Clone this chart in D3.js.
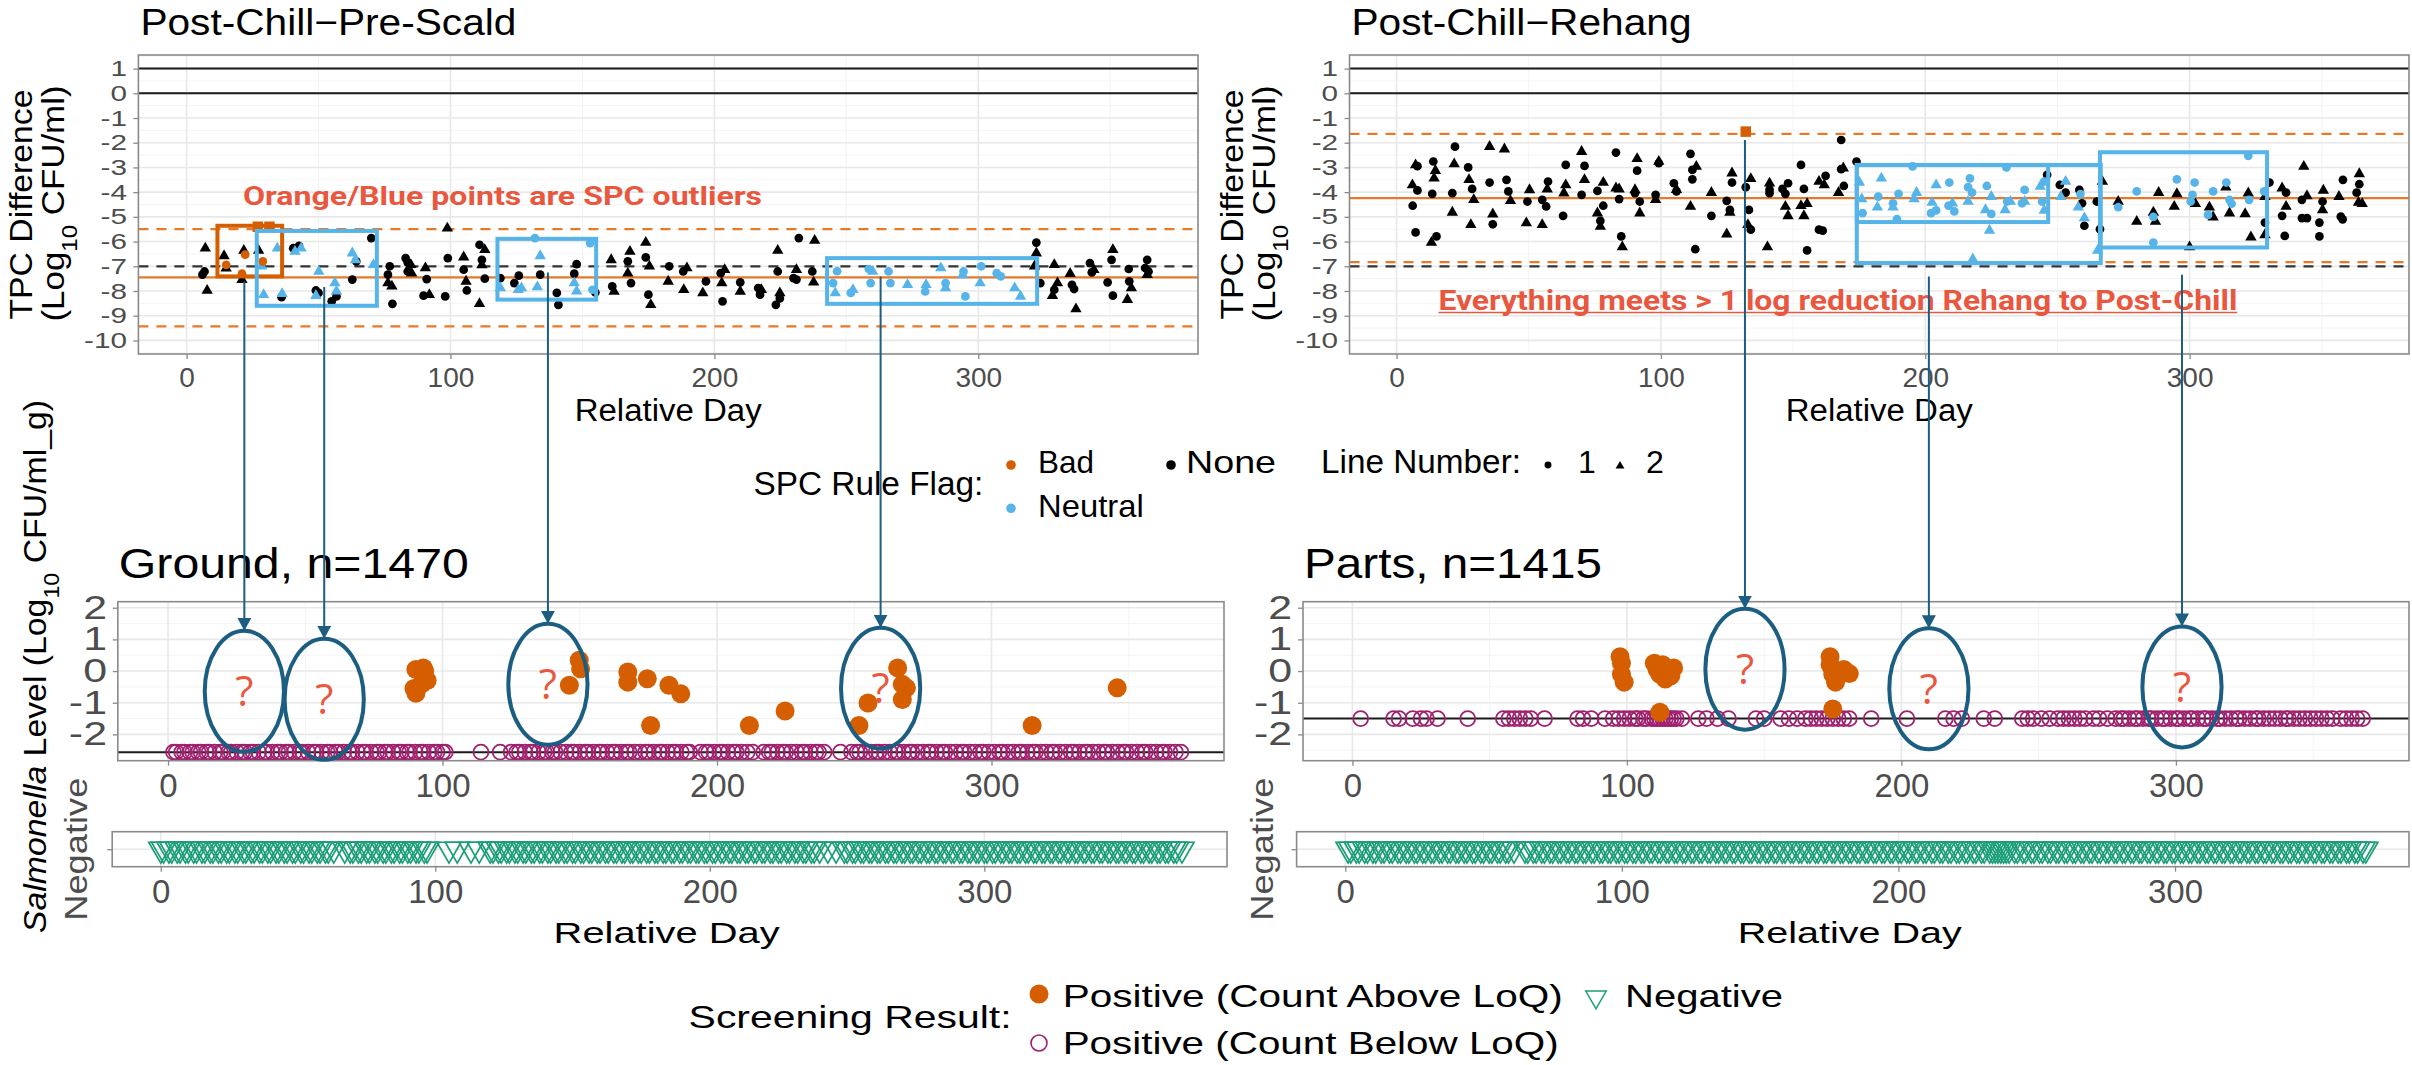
<!DOCTYPE html>
<html>
<head>
<meta charset="utf-8">
<script src="https://cdn.jsdelivr.net/npm/d3@7"></script>
<style>
  body { margin: 0; background: #fff; }
  svg { display: block; }
</style>
</head>
<body>
<svg id="chart" width="2412" height="1065"></svg>
<script>
// ---- data: SPC TPC differences (day, log10 difference, line number; line 0 = square marker)
const preScaldNone = [
  [7.1,-6.27,2],[6.8,-7.21,1],[6,-7.34,1],[7.8,-7.98,2],[14.2,-6.58,2],[15,-7.08,2],[21.7,-6.36,2],[21,-7.54,2],
  [27.3,-6.36,2],[36,-8.25,1],[40.4,-6.27,1],[42.6,-6.17,1],[49,-7.98,1],[50,-8.08,1],[55,-8.42,1],[56.8,-8.22,1],
  [62.8,-7.54,1],[64.3,-6.8,1],[70,-5.86,1],[77,-7.0,1],[76.3,-7.34,1],[76.3,-7.68,2],[77.8,-7.81,2],[78,-8.52,1],
  [83,-6.67,1],[83.8,-6.85,1],[85,-6.94,2],[83.8,-7.21,1],[85.3,-7.28,2],[90.5,-7.07,2],[91,-7.52,1],[89.8,-8.19,1],
  [92,-8.15,2],[98.8,-5.46,2],[99,-6.67,1],[98,-8.22,1],[105,-6.63,2],[105,-7.14,1],[105.9,-7.61,2],[106.2,-7.98,1],
  [111,-6.13,1],[113,-6.33,2],[111.9,-6.74,1],[111.9,-6.95,2],[113,-7.5,1],[111,-8.52,2],[118.9,-7.48,1],[125.9,-7.38,1],
  [124.2,-7.68,1],[134,-7.34,1],[140.3,-8.08,1],[140.9,-8.56,1],[147.8,-6.91,1],[146.9,-7.3,1],[154.9,-8.06,1],
  [160.9,-6.74,2],[161.3,-7.81,1],[162,-8.02,2],[168,-6.4,2],[167.2,-6.8,1],[167.2,-7.28,2],[168.4,-7.68,1],
  [174,-6.04,2],[174,-6.64,1],[175.4,-7.0,2],[175,-8.15,1],[175.9,-8.56,2],[182.9,-7.0,1],[182.5,-7.61,2],
  [188.2,-7.21,1],[189.6,-7.07,2],[188.4,-7.95,2],[195.6,-8.08,2],[196.8,-7.61,1],[202.4,-7.28,1],[203.9,-7.14,2],
  [202.8,-7.68,2],[203.1,-8.42,1],[209.8,-7.65,1],[209.8,-8.02,2],[216.6,-7.88,1],[217.3,-8.15,1],[217.8,-7.95,2],
  [224,-6.36,2],[224,-7.21,1],[224.8,-8.08,2],[223.3,-8.56,1],[224.8,-8.3,1],[232,-5.86,1],[231.1,-7.14,2],
  [231.1,-7.54,1],[230,-7.48,1],[238,-5.96,2],[237.1,-7.21,1],[237.6,-7.65,2],[322,-6.04,1],[322,-6.47,2],
  [321.3,-7.0,2],[323.5,-7.68,1],[328.8,-6.94,2],[330,-7.68,2],[328.1,-8.19,2],[328.8,-7.95,1],[334.8,-7.3,2],
  [335.5,-7.75,1],[336.3,-7.92,1],[337,-8.73,2],[342.3,-6.87,1],[343.8,-7.14,2],[343,-7.25,1],[351,-6.33,2],
  [350.5,-6.74,1],[349,-7.65,1],[351,-8.19,1],[357,-7.11,1],[357.2,-7.61,1],[358,-7.88,2],[356.5,-8.35,2],
  [364,-6.74,1],[363.2,-7.07,1],[364,-7.34,2],[364.5,-7.21,1]
];
const preScaldNeutral = [
  [34.4,-6.27,2],[28.4,-7.0,2],[29.2,-8.15,2],[36.2,-8.11,2],[41.1,-6.4,2],[43.4,-6.27,2],[50.1,-7.21,2],[49,-8.19,2],
  [56.2,-7.68,2],[56.8,-8.01,2],[62.8,-6.47,2],[64,-6.74,2],[70.8,-6.94,2],[118.9,-7.88,2],[125.7,-7.95,2],
  [126.9,-7.88,2],[132,-5.86,1],[134,-6.58,2],[132.9,-7.84,2],[146.9,-7.68,2],[147.8,-8.01,2],[152.9,-6.06,1],
  [153.8,-7.95,1],[245,-7.68,1],[245.8,-8.08,2],[251.7,-8.08,1],[258.5,-7.11,1],[260,-7.21,2],[259.2,-7.68,1],
  [266,-7.21,1],[266.7,-7.68,1],[273.2,-7.75,2],[280.2,-7.75,2],[279.9,-8.02,1],[285.8,-7.07,2],[287.6,-7.68,1],
  [287.6,-7.88,2],[294.4,-7.21,1],[294.1,-7.35,2],[295.1,-8.22,1],[301.1,-7.0,1],[300.7,-7.68,2],[307,-7.28,1],
  [308.5,-7.41,1],[313.8,-7.88,2],[316,-8.22,2],[246.5,-7.2,1],[252.5,-7.95,2]
];
const preScaldBad = [[15,-6.94,1],[22.2,-6.53,1],[21,-7.3,1],[28.9,-6.8,1],[27,-5.4,0],[31.4,-5.4,0]];

const rehangNone = [
  [6,-3.71,2],[6.1,-4.55,1],[7.2,-5.63,1],[7.2,-2.9,2],[7.9,-2.95,1],[7.9,-3.93,1],[13.9,-2.76,1],[14.7,-3.13,2],
  [14.2,-3.44,2],[13.5,-4.07,1],[13.2,-6.04,2],[15.1,-5.79,1],[22.1,-2.16,1],[21.8,-2.86,2],[21.1,-4.04,1],
  [21.1,-4.82,2],[27.1,-3.0,1],[27.4,-3.5,2],[28.6,-3.87,1],[29.2,-4.31,2],[28.1,-5.32,2],[35.2,-2.16,2],
  [35.2,-3.61,1],[36.4,-4.89,2],[36.4,-5.3,1],[40.8,-2.26,2],[41.6,-3.5,1],[42.3,-3.97,1],[43.1,-4.35,2],
  [49.1,-5.25,2],[49.5,-4.38,1],[50.3,-3.91,2],[55.1,-4.31,1],[56.6,-4.58,1],[55.1,-5.32,2],[57,-3.88,2],
  [57.3,-3.57,1],[63,-4.96,1],[63.3,-4.04,2],[64,-3.71,2],[64,-2.9,1],[70,-2.36,2],[71.1,-2.94,1],[71.1,-3.5,2],
  [70,-4.11,1],[76,-3.95,1],[76,-4.85,2],[77.1,-5.16,1],[77.1,-5.39,2],[78.2,-4.55,1],[78.2,-3.61,2],[83,-2.4,1],
  [83,-3.84,2],[84.2,-3.88,2],[84.2,-4.28,1],[85,-5.79,1],[85.4,-6.22,2],[91,-2.65,2],[91,-3.13,1],[90.2,-3.91,2],
  [90.2,-4.04,1],[92,-4.38,1],[92,-4.85,2],[99.2,-2.83,1],[99.2,-2.76,2],[98,-4.11,1],[98,-4.31,2],[104.9,-3.64,1],
  [105.9,-3.97,1],[105.9,-3.9,2],[111.2,-2.45,1],[111.9,-3.1,1],[111.9,-3.48,1],[113.4,-2.96,2],[111.2,-4.58,2],
  [113,-6.31,1],[119.1,-4.02,2],[119.1,-4.96,1],[126.9,-3.23,2],[126.9,-3.61,1],[124.9,-4.35,1],[126.1,-4.82,2],
  [126.1,-4.72,1],[124.9,-5.7,2],[132.1,-3.8,1],[134,-3.46,2],[133.3,-4.72,1],[132.9,-5.32,2],[134,-5.52,1],
  [141.1,-3.64,2],[141.1,-4.04,1],[140.3,-6.22,2],[141.1,-3.9,1],[146,-3.87,1],[148.1,-3.64,1],[147.1,-4.58,2],
  [148.1,-4.96,2],[147.1,-4.07,1],[153,-2.9,1],[154.1,-3.87,1],[153,-4.55,2],[155.3,-4.47,2],[154.1,-4.96,2],
  [155.3,-6.36,1],[159.8,-3.57,2],[159.8,-5.52,1],[161.2,-5.56,1],[161.8,-3.71,2],[162.3,-3.34,1],[167.2,-4.02,2],
  [168.2,-3.07,1],[169,-3.03,2],[168.2,-1.89,1],[169.2,-3.75,1],[174,-2.76,1],[246.1,-3.3,1],[250.9,-3.71,1],
  [253.1,-4.02,1],[258.3,-3.91,1],[259.3,-4.45,1],[260.2,-5.36,1],[264.9,-4.38,1],[266.1,-5.5,1],[267,-3.57,2],
  [273,-4.38,2],[280,-5.19,2],[286.3,-4.82,2],[287.1,-5.19,2],[288.3,-4.02,2],[295.2,-4.07,2],[294.2,-4.58,2],
  [302.2,-4.47,2],[300,-6.22,2],[307.5,-4.61,2],[308.9,-5.01,2],[313.7,-3.8,2],[315.1,-4.85,2],[322.2,-4.04,2],
  [321,-4.88,2],[323.2,-5.82,2],[328.5,-5.23,1],[328.5,-5.73,2],[328.5,-4.18,2],[330.2,-3.61,1],[335,-3.84,2],
  [336.5,-4.02,1],[335,-4.96,1],[336,-5.77,1],[336.5,-4.58,2],[343.2,-2.96,2],[342.5,-4.31,1],[344.4,-4.15,2],
  [342.5,-5.05,1],[344.4,-5.05,1],[349.1,-5.79,1],[350.3,-4.38,1],[350.6,-3.93,2],[350.3,-4.72,2],[349.1,-5.23,1],
  [357.2,-4.99,1],[358,-3.5,1],[356.5,-4.18,2],[357.9,-5.1,1],[364.2,-3.26,2],[364.2,-3.68,1],[363.2,-4.02,1],
  [363.9,-4.42,2],[365.3,-4.47,2]
];
const rehangNeutral = [
  [175.1,-3.61,2],[176,-4.28,2],[176.3,-4.85,1],[181.9,-4.61,2],[182.2,-4.18,1],[183.4,-3.44,2],[187.8,-4.45,1],
  [187.8,-4.61,2],[189.3,-5.09,1],[189.9,-4.07,1],[195.2,-2.96,1],[196.7,-4.02,2],[195.8,-4.28,2],[202.6,-4.42,2],
  [202.2,-4.85,1],[204.1,-3.71,2],[204.1,-4.74,1],[209.1,-3.61,1],[208.8,-4.55,1],[210.3,-4.45,2],[211,-4.78,1],
  [216.2,-4.38,2],[216.9,-3.44,1],[217.7,-4.02,1],[216.2,-3.8,1],[222.8,-4.72,2],[223.3,-3.75,1],[225,-4.88,1],
  [225,-4.18,2],[224.3,-5.55,2],[230.7,-3.0,1],[231,-4.38,1],[230.2,-4.72,2],[232.2,-4.38,2],[237.6,-3.91,1],
  [237.6,-4.38,2],[236.6,-4.45,1],[243.5,-3.77,2],[244.2,-4.38,1],[245,-4.74,2],[245,-3.57,1],[218,-6.71,2],
  [265.2,-6.36,2],[253.1,-3.57,2],[251.3,-4.18,2],[257.9,-4.61,2],[258.7,-4.08,1],[260.2,-5.05,2],[273,-4.61,1],
  [280,-3.97,1],[286.3,-5.0,1],[286.3,-6.04,1],[295.2,-3.48,1],[301.9,-3.61,1],[301.1,-4.11,1],[300.4,-4.38,1],
  [307,-4.92,1],[308.9,-3.97,1],[313.9,-3.61,1],[315.9,-4.47,1],[315.1,-4.31,1],[322.2,-2.53,1],[322.5,-4.31,1],
  [328.2,-3.97,1]
];
const rehangBad = [[132.1,-1.55,0]];

// control limits [upper, centre, lower] and the -7 log target
const preScaldLimits = [-5.5, -7.45, -9.43];
const rehangLimits = [-1.645, -4.245, -6.83];
const referenceLines = [1, 0];
const targetLine = -7;

// highlighted SPC runs: [day from, day to, value low, value high, flag]
const preScaldBoxes = [[11.7,36.2,-7.41,-5.36,'Bad'],[26.6,72.1,-8.6,-5.57,'Neutral'],[117.8,155.2,-8.35,-5.89,'Neutral'],[242.7,322.3,-8.52,-6.67,'Neutral']];
const rehangBoxes = [[174.1,246.5,-5.21,-2.9,'Neutral'],[174.1,266.4,-6.87,-2.9,'Neutral'],[266.1,329.3,-6.24,-2.385,'Neutral']];

// ---- data: Salmonella screening
const groundLoq = -2.56;
const partsLoq = -1.5;
const groundAbove = [[89.6,-0.55],[90.3,0.05],[90.3,-0.7],[92.5,-0.4],[93,0.1],[94.4,-0.3],[93.5,0.0],[146.2,-0.45],
  [149.8,0.34],[150.3,0.07],[167.5,-0.03],[167.5,-0.35],[174.6,-0.24],[182.5,-0.45],[186.8,-0.72],[175.8,-1.72],
  [211.8,-1.72],[224.8,-1.26],[251.7,-1.72],[255,-1.01],[265.8,0.1],[267.5,-0.42],[269,-0.53],[267.5,-0.9],
  [314.8,-1.72],[345.8,-0.53]];
const groundBelowDays = [2,3,5,6,8,9,11,12,14,15,17,19,20,22,23,25,27,28,30,31,33,35,36,38,40,41,43,44,46,48,49,51,53,54,
  56,58,59,61,62,64,66,67,69,71,72,74,76,77,79,80,82,84,85,87,88,90,92,93,95,97,98,100,101,114,121,125,127,128,130,132,
  133,135,137,138,140,141,143,145,147,148,150,152,153,155,157,158,160,162,163,165,167,168,170,172,174,175,177,179,180,
  182,184,185,187,189,190,194,196,197,199,201,202,204,206,207,209,211,213,217,219,220,222,224,225,227,229,231,232,234,
  236,237,239,245,249,251,252,254,256,258,259,261,263,265,266,268,270,271,273,275,277,278,280,282,283,285,287,289,290,
  292,294,296,297,299,301,303,304,306,308,310,311,313,315,316,318,320,322,323,325,327,329,330,332,334,335,337,339,341,
  342,344,346,348,349,351,353,355,356,358,360,362,363,365,367,369];
const groundNegDays = [0,1,3,4,6,7,9,10,12,13,15,16,18,19,21,22,24,25,27,28,30,31,33,34,36,37,39,40,42,43,45,46,48,49,51,
  52,54,55,57,58,60,61,63,67,69,70,72,73,75,76,78,79,81,82,84,85,87,88,90,91,93,94,96,97,105,108,113,116,120,121,123,124,
  126,127,129,130,132,133,135,136,138,139,141,142,144,145,147,148,150,151,153,154,156,157,159,160,162,163,165,166,168,
  169,171,172,174,175,177,178,180,181,183,184,186,187,189,190,192,193,195,196,198,199,201,202,204,205,207,208,210,211,
  213,214,216,217,219,220,222,223,225,226,228,229,231,232,234,235,237,238,240,243,246,249,250,252,253,255,256,258,259,
  261,262,264,265,267,268,270,271,273,274,276,277,279,280,282,283,285,286,288,289,291,292,294,295,297,298,300,301,303,
  304,306,307,309,310,312,313,315,316,318,319,321,322,324,325,327,328,330,331,333,334,336,337,339,340,342,343,345,346,
  348,349,351,352,354,355,357,358,360,361,363,364,366,367,369,370,372];
const partsAbove = [[97.5,0.45],[98,0.25],[98,-0.1],[99,-0.35],[110,0.25],[111,0.05],[112,-0.1],[113,0.2],[114,-0.25],
  [115,0.05],[116,-0.15],[117,0.1],[112,-1.3],[174,0.45],[174,0.2],[175,-0.1],[176,-0.35],[179,0.05],[181,-0.08],[175,-1.2]];
const partsBelowDays = [3,15,17,22,25,27,31,42,55,57,59,61,63,65,70,82,84,87,92,95,97,99,101,103,104,106,107,109,110,111,
  112,113,114,115,116,117,118,120,126,129,133,137,147,150,156,159,162,165,167,169,171,173,175,177,179,181,189,202,216,
  219,222,230,234,244,246,248,251,254,257,259,261,263,265,267,270,272,275,278,280,281,283,285,286,288,290,291,293,295,
  296,298,300,301,303,305,306,308,310,311,313,315,316,318,320,322,323,325,327,329,330,332,334,336,338,340,341,343,345,
  347,349,351,353,355,357,360,362,364,366,368];
const partsNegDays = [1,2,4,5,7,8,10,11,13,14,16,17,19,20,22,23,25,26,28,29,31,32,34,35,37,38,40,41,43,44,46,47,49,50,52,
  53,55,56,58,59,61,65,66,68,69,71,72,74,75,77,78,80,81,83,84,86,87,89,90,92,93,95,96,98,99,101,102,104,105,107,108,110,
  111,113,114,116,117,119,120,122,123,125,126,128,129,131,132,134,135,137,138,140,141,143,144,146,147,149,150,152,153,
  155,156,158,159,161,162,164,165,167,168,170,171,173,174,176,177,179,180,182,183,185,186,188,189,191,192,194,195,197,
  198,200,201,203,204,206,207,209,210,212,213,215,216,218,219,221,222,224,225,227,228,230,231,233,234,235,236,237,238,
  239,240,242,243,245,246,248,249,251,252,254,255,257,258,260,261,263,264,266,267,269,270,272,273,275,276,278,279,281,
  282,284,285,287,288,290,291,293,294,296,297,299,300,302,303,305,306,308,309,311,312,314,315,317,318,320,321,323,324,
  326,327,329,330,332,333,335,336,338,339,341,342,344,345,347,348,350,351,353,354,356,357,359,360,362,363,365,366,368,369];

// callouts: ellipse centre (day, level) in the screening panel, arrow start level in the SPC panel
const groundCallouts = [[27.8,-0.64,-7.62],[56.9,-0.89,-7.84],[138.4,-0.42,-7.25],[259.6,-0.54,-7.41]];
const partsCallouts = [[143,0.06,-1.89],[210,-0.56,-7.41],[302.2,-0.5,-7.34]];

// ticks
const dayTicks = [0, 100, 200, 300];
const dayMinor = [50, 150, 250, 350];
const tpcTicks = [1, 0, -1, -2, -3, -4, -5, -6, -7, -8, -9, -10];
const tpcMinor = [1.5, 0.5, -0.5, -1.5, -2.5, -3.5, -4.5, -5.5, -6.5, -7.5, -8.5, -9.5, -10.5];
const levelTicks = [2, 1, 0, -1, -2];
const levelMinor = [1.5, 0.5, -0.5, -1.5, -2.5];

// ---- styles
const FONT = '"Liberation Sans", Arial, Helvetica, sans-serif';
const NOTE_FONT = 'Roboto, "Liberation Sans", sans-serif';
const flagColor = { Bad: '#d55e00', Neutral: '#56b4e9', None: '#000' };
const ORANGE_LINE = '#e57a2a';
const NOTE = '#e9573f';
const CALLOUT = '#1c5e82';
const POS = '#d55e00', BELOW = '#a01f6e', NEG = '#1b9e77';

const svg = d3.select('#chart');
svg.append('rect').attr('width', 2412).attr('height', 1065).attr('fill', '#fff');
const defs = svg.append('defs');
defs.append('marker').attr('id', 'head').attr('markerUnits', 'userSpaceOnUse')
  .attr('viewBox', '0 0 13 14').attr('refX', 13).attr('refY', 7)
  .attr('markerWidth', 13).attr('markerHeight', 14).attr('orient', 'auto')
  .append('path').attr('d', 'M0,0L13,7L0,14Z').attr('fill', CALLOUT);

// ---- scales
const yTop = d3.scaleLinear().domain([-10.55, 1.55]).range([354, 55]);
const xPre = d3.scaleLinear().domain([-18.25, 383.25]).range([138.4, 1198]);
const xReh = d3.scaleLinear().domain([-17.8, 383]).range([1349.5, 2409]);
const yBot = d3.scaleLinear().domain([-2.83, 2.19]).range([760.7, 601.7]);
const xGround = d3.scaleLinear().domain([-18.3, 384.7]).range([117.8, 1224]);
const xParts = d3.scaleLinear().domain([-18, 384.9]).range([1303, 2409]);
const xGroundNeg = d3.scaleLinear().domain([-17.7, 388.4]).range([112.2, 1227]);
const xPartsNeg = d3.scaleLinear().domain([-17.6, 384.6]).range([1296.6, 2409]);
const yNeg = d3.scalePoint().domain(['Negative']).range([866.7, 831.7]).padding(0.5);

// ---- helpers
function txt(x, y, s, size, opts = {}) {
  const t = svg.append('text').attr('x', x).attr('y', y)
    .attr('font-family', opts.family || FONT).attr('font-size', size)
    .attr('fill', opts.fill || '#000').attr('text-anchor', opts.anchor || 'start')
    .attr('font-weight', opts.weight || 'normal').text(s);
  if (opts.len) t.attr('textLength', opts.len).attr('lengthAdjust', 'spacingAndGlyphs');
  if (opts.rotate) t.attr('transform', `rotate(-90,${x},${y})`);
  return t;
}

function drawGrid(x, y, xMajor, xMinor, yMajor, yMinor) {
  const [xl, xr] = x.range();
  const [yb, yt] = y.range();
  const g = svg.append('g');
  const v = (vals, c, w) => g.append('g').selectAll('line').data(vals).join('line')
    .attr('x1', d => x(d)).attr('x2', d => x(d)).attr('y1', yt).attr('y2', yb).attr('stroke', c).attr('stroke-width', w);
  const h = (vals, c, w) => g.append('g').selectAll('line').data(vals).join('line')
    .attr('y1', d => y(d)).attr('y2', d => y(d)).attr('x1', xl).attr('x2', xr).attr('stroke', c).attr('stroke-width', w);
  v(xMinor, '#f4f4f4', 1); h(yMinor, '#f4f4f4', 1);
  v(xMajor, '#e8e8e8', 1.6); h(yMajor, '#e8e8e8', 1.6);
}

function drawBorder(x, y) {
  const [xl, xr] = x.range();
  const [yb, yt] = y.range();
  svg.append('rect').attr('x', xl).attr('y', yt).attr('width', xr - xl).attr('height', yb - yt)
    .attr('fill', 'none').attr('stroke', '#8a8a8a').attr('stroke-width', 1.6);
}

// stretch widens tick labels the way the reference renders them
function styleAxis(g, size, stretch) {
  g.select('.domain').remove();
  g.selectAll('.tick line').attr('stroke', '#8a8a8a').attr('stroke-width', 1.3);
  g.selectAll('.tick text').attr('fill', '#4d4d4d').attr('font-size', size).attr('font-family', FONT);
  if (stretch) {
    g.selectAll('.tick text').each(function () {
      const w = this.getComputedTextLength();
      if (w > 0) d3.select(this).attr('textLength', w * stretch).attr('lengthAdjust', 'spacingAndGlyphs');
    });
  }
}

function bottomAxis(x, yPos, size, pad) {
  const g = svg.append('g').attr('transform', `translate(0,${yPos})`)
    .call(d3.axisBottom(x).tickValues(dayTicks).tickSize(5).tickPadding(pad).tickFormat(d => String(d)));
  styleAxis(g, size);
}

function leftAxis(y, xPos, ticks, size, pad, stretch) {
  const g = svg.append('g').attr('transform', `translate(${xPos},0)`)
    .call(d3.axisLeft(y).tickValues(ticks).tickSize(5).tickPadding(pad).tickFormat(d => String(d)));
  styleAxis(g, size, stretch);
}

function hRule(x, y, v, color, width, dash) {
  const [xl, xr] = x.range();
  svg.append('line').attr('x1', xl).attr('x2', xr).attr('y1', y(v)).attr('y2', y(v))
    .attr('stroke', color).attr('stroke-width', width).attr('stroke-dasharray', dash || null);
}

const shapeOf = line => line === 2 ? d3.symbolTriangle : line === 0 ? d3.symbolSquare : d3.symbolCircle;
const areaOf = line => line === 2 ? 56 : line === 0 ? 110 : 60;

function spcPoints(x, rows, color) {
  svg.append('g').selectAll('path').data(rows).join('path')
    .attr('transform', d => `translate(${x(d[0])},${yTop(d[1])})`)
    .attr('d', d => d3.symbol(shapeOf(d[2]), areaOf(d[2]))())
    .attr('fill', color);
}

function spcBoxes(x, rows) {
  svg.append('g').selectAll('rect').data(rows).join('rect')
    .attr('x', d => x(d[0])).attr('width', d => x(d[1]) - x(d[0]))
    .attr('y', d => yTop(d[3])).attr('height', d => yTop(d[2]) - yTop(d[3]))
    .attr('fill', 'none').attr('stroke', d => flagColor[d[4]]).attr('stroke-width', 4);
}

function spcPanel(x, title, titleLen, limits, boxes, none, neutral, bad, yTitleX) {
  drawGrid(x, yTop, dayTicks, dayMinor, tpcTicks, tpcMinor);
  referenceLines.forEach(v => hRule(x, yTop, v, '#1a1a1a', 2));
  hRule(x, yTop, limits[0], ORANGE_LINE, 2.2, '10,8');
  hRule(x, yTop, limits[2], ORANGE_LINE, 2.2, '10,8');
  hRule(x, yTop, targetLine, '#333', 2.2, '10,8');
  hRule(x, yTop, limits[1], ORANGE_LINE, 2.2);
  spcPoints(x, none, flagColor.None);
  spcPoints(x, neutral, flagColor.Neutral);
  spcPoints(x, bad, flagColor.Bad);
  spcBoxes(x, boxes);
  drawBorder(x, yTop);
  leftAxis(yTop, x.range()[0], tpcTicks, 22, 6.4, 1.35);
  bottomAxis(x, 354, 28, 8);
  const [xl, xr] = x.range();
  txt(xl + 2, 35, title, 37, { len: titleLen });
  txt((xl + xr) / 2, 421, 'Relative Day', 31, { anchor: 'middle', len: 187 });
  txt(yTitleX, 204.5, 'TPC Difference', 32, { anchor: 'middle', rotate: true, len: 230 });
  const t2 = txt(yTitleX + 32, 203.5, '', 32, { anchor: 'middle', rotate: true, len: 236 });
  t2.append('tspan').text('(Log');
  t2.append('tspan').attr('font-size', 22).attr('baseline-shift', 'sub').text('10');
  t2.append('tspan').text(' CFU/ml)');
}

function screenPanel(x, xNeg, title, titleLen, loq, above, belowDays, negDays, negLabelX, rdLen) {
  drawGrid(x, yBot, dayTicks, dayMinor, levelTicks, levelMinor);
  hRule(x, yBot, loq, '#1a1a1a', 2);
  svg.append('g').selectAll('circle').data(belowDays).join('circle')
    .attr('cx', d => x(d)).attr('cy', yBot(loq)).attr('r', 7.5)
    .attr('fill', 'none').attr('stroke', BELOW).attr('stroke-width', 1.8);
  svg.append('g').selectAll('circle').data(above).join('circle')
    .attr('cx', d => x(d[0])).attr('cy', d => yBot(d[1])).attr('r', 9.5).attr('fill', POS);
  drawBorder(x, yBot);
  leftAxis(yBot, x.range()[0], levelTicks, 33, 5.8, 1.3);
  bottomAxis(x, 760.7, 33, 8);
  txt(x.range()[0] + 1, 578, title, 43, { len: titleLen });

  // negative strip
  drawGrid(xNeg, yNeg, dayTicks, dayMinor, [], []);
  const [nl, nr] = xNeg.range();
  svg.append('line').attr('x1', nl).attr('x2', nr).attr('y1', yNeg('Negative')).attr('y2', yNeg('Negative'))
    .attr('stroke', '#e8e8e8').attr('stroke-width', 1.6);
  svg.append('g').selectAll('path').data(negDays).join('path')
    .attr('transform', d => `translate(${xNeg(d)},${yNeg('Negative')}) rotate(180)`)
    .attr('d', d3.symbol(d3.symbolTriangle, 250)())
    .attr('fill', 'none').attr('stroke', NEG).attr('stroke-width', 1.7);
  drawBorder(xNeg, yNeg);
  const ga = svg.append('g').attr('transform', `translate(${nl},0)`)
    .call(d3.axisLeft(yNeg).tickSize(5).tickFormat(''));
  styleAxis(ga, 32);
  txt(negLabelX, yNeg('Negative'), 'Negative', 32, { anchor: 'middle', rotate: true, fill: '#4d4d4d', len: 143 });
  bottomAxis(xNeg, 866.7, 33, 8);
  txt((nl + nr) / 2 - 3, 943, 'Relative Day', 30, { anchor: 'middle', len: rdLen });
}

// ---- panels
spcPanel(xPre, 'Post-Chill\u2212Pre-Scald', 376, preScaldLimits, preScaldBoxes,
  preScaldNone, preScaldNeutral, preScaldBad, 31.7);
spcPanel(xReh, 'Post-Chill\u2212Rehang', 340, rehangLimits, rehangBoxes,
  rehangNone, rehangNeutral, rehangBad, 1243);

txt(243, 205, 'Orange/Blue points are SPC outliers', 26, { family: NOTE_FONT, weight: 'bold', fill: NOTE, len: 519 });
txt(1438.4, 309.5, 'Everything meets > 1 log reduction Rehang to Post-Chill', 27,
  { family: NOTE_FONT, weight: 'bold', fill: NOTE, len: 799 });
svg.append('line').attr('x1', 1438.4).attr('x2', 2237.2).attr('y1', 312.5).attr('y2', 312.5)
  .attr('stroke', NOTE).attr('stroke-width', 1.5);

screenPanel(xGround, xGroundNeg, 'Ground, n=1470', 350, groundLoq, groundAbove, groundBelowDays, groundNegDays, 86.6, 226);
screenPanel(xParts, xPartsNeg, 'Parts, n=1415', 298, partsLoq, partsAbove, partsBelowDays, partsNegDays, 1273, 224);

// shared y title of the screening panels
const ys = txt(46, 666.5, '', 32, { anchor: 'middle', rotate: true, len: 533 });
ys.append('tspan').attr('font-style', 'italic').text('Salmonella');
ys.append('tspan').text(' Level (Log');
ys.append('tspan').attr('font-size', 22).attr('baseline-shift', 'sub').text('10');
ys.append('tspan').text(' CFU/ml_g)');

// ---- SPC legend
txt(753.4, 495, 'SPC Rule Flag:', 34, { len: 230 });
const spcKeys = [['Bad', 1011, 465, 1038, 473, 56], ['Neutral', 1011, 508.3, 1038, 516.7, 105.7], ['None', 1171, 465, 1186, 473, 90]];
spcKeys.forEach(k => {
  svg.append('circle').attr('cx', k[1]).attr('cy', k[2]).attr('r', 4.8).attr('fill', flagColor[k[0]]);
  txt(k[3], k[4], k[0], 32, { len: k[5] });
});
txt(1321, 473, 'Line Number:', 33, { len: 200 });
svg.append('path').attr('transform', 'translate(1548,465)').attr('d', d3.symbol(d3.symbolCircle, 38)()).attr('fill', '#000');
txt(1578, 473, '1', 32);
svg.append('path').attr('transform', 'translate(1620,466)').attr('d', d3.symbol(d3.symbolTriangle, 34)()).attr('fill', '#000');
txt(1646, 473, '2', 32);

// ---- screening legend
txt(688.6, 1028, 'Screening Result:', 32, { len: 323 });
svg.append('circle').attr('cx', 1039).attr('cy', 994).attr('r', 9.5).attr('fill', POS);
txt(1062.7, 1006.5, 'Positive (Count Above LoQ)', 32, { len: 500 });
svg.append('path').attr('transform', 'translate(1596,997) rotate(180)').attr('d', d3.symbol(d3.symbolTriangle, 180)())
  .attr('fill', 'none').attr('stroke', NEG).attr('stroke-width', 1.5);
txt(1625, 1006.5, 'Negative', 32, { len: 158 });
svg.append('circle').attr('cx', 1039).attr('cy', 1043).attr('r', 8).attr('fill', 'none').attr('stroke', BELOW).attr('stroke-width', 1.6);
txt(1062.7, 1054, 'Positive (Count Below LoQ)', 32, { len: 496 });

// ---- callouts (ellipse + arrow from the SPC run)
function callouts(x, rows) {
  const rx = 39.6, ry = 60.5;
  rows.forEach(c => {
    const cx = x(c[0]), cy = yBot(c[1]);
    svg.append('line').attr('x1', cx).attr('x2', cx).attr('y1', yTop(c[2])).attr('y2', cy - ry)
      .attr('stroke', CALLOUT).attr('stroke-width', 2).attr('marker-end', 'url(#head)');
    svg.append('ellipse').attr('cx', cx).attr('cy', cy).attr('rx', rx).attr('ry', ry)
      .attr('fill', 'none').attr('stroke', CALLOUT).attr('stroke-width', 4);
    txt(cx, cy + 15, '?', 42, { anchor: 'middle', fill: NOTE, family: '"Open Sans", "Liberation Sans", sans-serif' });
  });
}
callouts(xGround, groundCallouts);
callouts(xParts, partsCallouts);
</script>
</body>
</html>
